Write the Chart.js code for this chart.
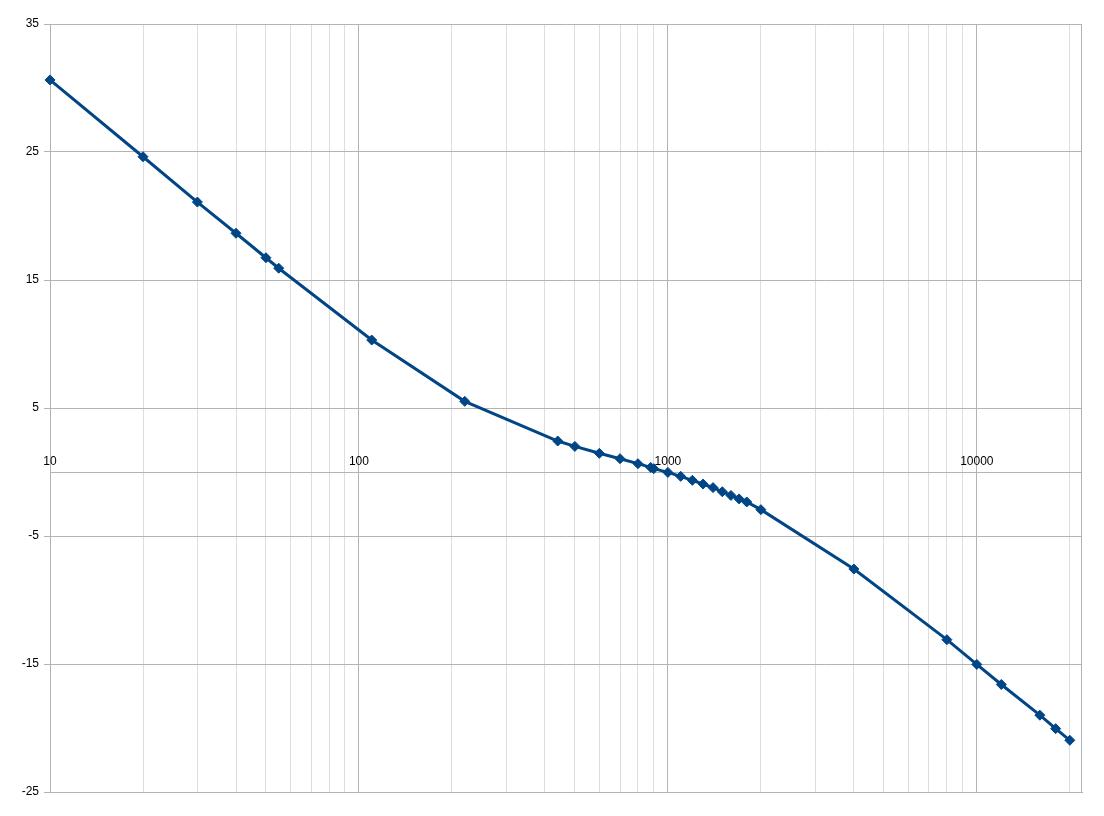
<!DOCTYPE html>
<html>
<head>
<meta charset="utf-8">
<script src="https://cdn.jsdelivr.net/npm/chart.js@4"></script>
<style>
  html, body { margin: 0; padding: 0; background: #fff; }
  #wrap { width: 1104px; height: 816px; }
</style>
</head>
<body>
<div id="wrap"><canvas id="chart" width="1104" height="816"></canvas></div>
<script>
// frequency (Hz) and level (dB)
const freqs = [10, 20, 30, 40, 50, 55, 110, 220, 440, 500, 600, 700, 800, 880, 900, 1000,
  1100, 1200, 1300, 1400, 1500, 1600, 1700, 1800, 2000, 4000, 8000, 10000, 12000, 16000, 18000, 20000];
const levels = [30.63, 24.63, 21.09, 18.65, 16.74, 15.92, 10.31, 5.52, 2.42, 2.0, 1.46, 1.04, 0.65, 0.36, 0.26, -0.03,
  -0.34, -0.65, -0.94, -1.22, -1.54, -1.83, -2.1, -2.34, -2.94, -7.58, -13.1, -15.03, -16.6, -19.0, -20.05, -20.96];

const xLabels = [10, 100, 1000, 10000];
const yTicks = [-25, -15, -5, 5, 15, 25, 35];
const xMin = 10, xMax = 21900;

const gridMajor = "#b3b3b3";
const gridMinor = "#dddddd";
const lineColor = "#004586";

// 1..9 x 10^n gridlines for the log axis
const xGrid = [];
for (let e = 1; e <= 4; e++) {
  for (let m = 1; m <= 9; m++) {
    const v = m * Math.pow(10, e);
    if (v >= xMin && v <= xMax) xGrid.push(v);
  }
}

const isDecade = v => Math.abs(Math.log10(v) - Math.round(Math.log10(v))) < 1e-9;

// x axis sits at y = 0, labels drawn just above it; plus right frame edge
const zeroAxis = {
  id: "zeroAxis",
  beforeDatasetsDraw(chart) {
    const ctx = chart.ctx;
    const area = chart.chartArea;
    const xs = chart.scales.x, ys = chart.scales.y;
    const y0 = Math.round(ys.getPixelForValue(0)) + 0.5;
    ctx.save();
    ctx.strokeStyle = gridMajor;
    ctx.lineWidth = 1;
    ctx.beginPath();
    ctx.moveTo(area.left, y0);
    ctx.lineTo(area.right, y0);
    ctx.moveTo(Math.round(area.right) - 0.5, area.top);
    ctx.lineTo(Math.round(area.right) - 0.5, area.bottom);
    ctx.stroke();
    ctx.fillStyle = "#000";
    ctx.font = "12px 'Liberation Sans', Arial, sans-serif";
    ctx.textAlign = "center";
    ctx.textBaseline = "middle";
    xLabels.forEach(v => {
      ctx.fillText(String(v), xs.getPixelForValue(v), y0 - 11);
    });
    ctx.restore();
  }
};

new Chart(document.getElementById("chart"), {
  type: "line",
  data: {
    datasets: [{
      data: freqs.map((f, i) => ({ x: f, y: levels[i] })),
      borderColor: lineColor,
      backgroundColor: lineColor,
      borderWidth: 3,
      tension: 0,
      clip: false,
      pointStyle: "rectRot",
      pointRadius: 5,
      pointBorderWidth: 1,
      pointBorderColor: lineColor,
      pointBackgroundColor: lineColor
    }]
  },
  options: {
    responsive: false,
    animation: false,
    layout: { padding: { top: 24, right: 22, bottom: 24, left: 0 } },
    plugins: {
      legend: { display: false },
      tooltip: { enabled: false }
    },
    scales: {
      x: {
        type: "logarithmic",
        min: xMin,
        max: xMax,
        afterBuildTicks: scale => { scale.ticks = xGrid.map(v => ({ value: v })); },
        afterFit: scale => { scale.height = 0; },
        ticks: { display: false },
        grid: {
          drawTicks: false,
          color: c => isDecade(c.tick.value) ? gridMajor : gridMinor
        },
        border: { display: true, color: gridMajor }
      },
      y: {
        min: -25,
        max: 35,
        afterBuildTicks: scale => { scale.ticks = yTicks.map(v => ({ value: v })); },
        afterFit: scale => { scale.width = 50; },
        ticks: {
          color: "#000",
          padding: 5,
          font: { family: "'Liberation Sans', Arial, sans-serif", size: 12 }
        },
        grid: { color: gridMajor, tickLength: 6 },
        border: { display: true, color: gridMajor }
      }
    }
  },
  plugins: [zeroAxis]
});
</script>
</body>
</html>
